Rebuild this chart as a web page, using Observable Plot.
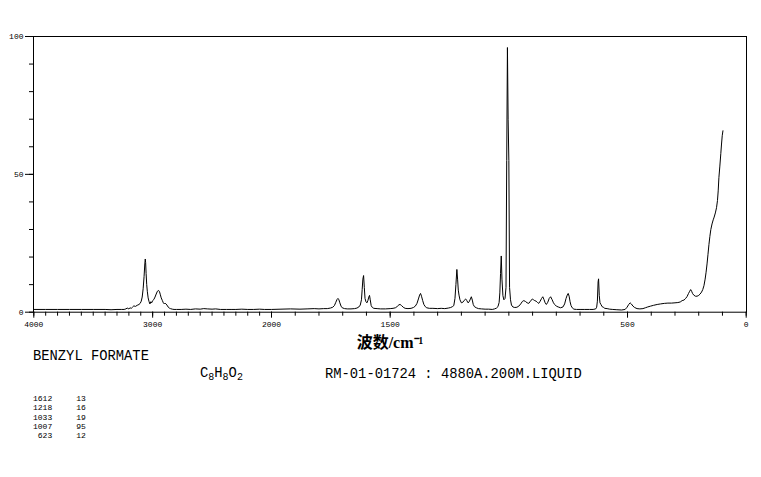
<!DOCTYPE html>
<html><head><meta charset="utf-8">
<script src="https://cdn.jsdelivr.net/npm/d3@7"></script>
<script src="https://cdn.jsdelivr.net/npm/@observablehq/plot@0.6"></script>
<style>
body{margin:0;background:#fff;}
#wrap{position:relative;width:761px;height:477px;overflow:hidden;font-family:"Liberation Mono",monospace;color:#000;background:#fff}
#wrap svg{position:absolute;left:0;top:0}
.t{position:absolute;white-space:pre;line-height:1}
g[aria-label="x-axis label"]{font:bold 16px "Liberation Serif","Noto Sans CJK SC",serif}
</style></head><body><div id="wrap"></div>
<script>
// Raman spectrum of benzyl formate: wavenumber (cm-1) and relative intensity
const wavenumbers = [4000,3900,3800,3700,3600,3500,3400,3350,3300,3260,3240,3225,3214,3200,3190,3180,3170,3158,3145,3130,3115,3105,3096,3088,3080,3072,3066,3062,3059,3055,3050,3045,3038,3030,3023,3015,3008,3000,2990,2980,2970,2960,2950,2942,2935,2928,2918,2910,2902,2895,2888,2880,2870,2860,2850,2835,2820,2800,2760,2720,2680,2640,2600,2570,2540,2500,2470,2430,2380,2340,2300,2250,2200,2150,2100,2060,2000,1960,1920,1880,1850,1820,1800,1780,1765,1752,1742,1735,1729,1724,1720,1716,1712,1707,1702,1692,1681,1665,1650,1640,1632,1626,1621,1618,1615,1612,1609,1606,1602,1598,1594,1590,1587,1584,1580,1575,1569,1555,1540,1520,1500,1488,1478,1470,1463,1458,1452,1445,1437,1425,1412,1402,1394,1387,1381,1376,1372,1368,1363,1358,1352,1346,1335,1320,1300,1285,1270,1255,1245,1238,1232,1227,1223,1219,1216,1213,1210,1206,1200,1194,1188,1182,1177,1172,1167,1162,1158,1154,1150,1145,1137,1128,1115,1100,1085,1070,1060,1052,1046,1041,1038,1035,1032,1029,1025,1021,1016,1012,1009,1006,1003,1000,997,993,989,983,975,966,958,950,943,937,930,923,916,909,901,896,891,885,879,874,868,862,857,852,847,842,836,830,824,818,812,807,800,792,782,772,765,759,754,750,746,742,738,733,726,715,700,680,660,645,634,630,627,624,622,619,616,612,607,602,596,586,575,562,545,525,510,502,495,489,484,477,470,460,448,435,425,415,403,390,375,361,345,330,315,300,288,278,270,262,255,249,243,238,234,230,226,221,214,207,200,194,188,183,178,173,169,165,161,157,153,149,144,139,135,130,125,121,118,115,111,107,104,101,98];
const intensities = [1.0,1.0,1.0,1.0,1.0,1.0,1.0,0.9,1.0,1.0,1.0,1.2,1.5,1.2,1.6,1.4,1.8,2.3,2.1,2.5,2.8,3.2,4.0,5.5,8.5,13,17.5,19.3,18,14,10,7.6,5.2,3.8,3.0,3.8,3.4,4.2,4.6,5.5,6.6,7.6,7.9,7.4,6.3,5.2,4.2,3.4,3.0,3.3,3.0,2.6,1.9,1.5,1.3,1.1,1.0,1.0,1.0,1.1,1.0,1.2,1.1,1.3,1.2,1.1,1.2,1.0,1.0,1.0,1.0,1.1,1.0,1.0,1.1,1.0,1.0,1.1,1.2,1.1,1.2,1.3,1.2,1.3,1.3,1.5,1.8,2.4,3.6,4.6,5.0,4.5,3.4,2.2,1.6,1.3,1.2,1.2,1.3,1.5,1.9,2.6,4.5,8.2,12,13.3,9,5,3.8,3.4,4.2,5.5,6.1,4.5,2.4,1.7,1.4,1.3,1.2,1.2,1.3,1.4,1.6,2.1,2.7,2.8,2.4,1.8,1.4,1.3,1.4,1.7,2.2,3.2,4.8,6.2,6.8,5.8,4.2,2.8,2.0,1.6,1.4,1.4,1.3,1.4,1.3,1.5,1.7,2.0,2.4,5,10,15.5,12,8,6.2,4.5,3.4,3.6,4.3,4.8,4.2,3.4,3.8,4.8,5.6,4.4,2.8,2.0,1.6,1.3,1.2,1.1,1.1,1.0,1.2,1.5,2.0,3.5,7,14,20.4,12,6,4.5,5,9,55,96,70,55,9,4.5,2.6,1.9,1.7,1.8,2.2,3.0,3.9,4.2,3.9,3.4,3.2,4.0,4.8,4.5,4.2,4.0,3.5,3.2,4.0,5.0,5.6,4.6,3.4,2.8,3.6,5.0,5.6,4.6,3.4,2.8,2.2,1.9,1.6,1.9,3.0,5.0,6.2,6.8,5.8,3.8,2.4,1.6,1.1,1.0,1.0,1.0,1.0,1.0,1.2,1.8,4.0,11,12.1,6,3.4,2.8,2.0,1.8,1.4,1.3,1.1,1.0,0.9,0.8,1.0,1.8,2.8,3.4,3.0,2.2,1.7,1.3,1.2,1.3,1.6,1.9,2.2,2.5,2.8,3.0,3.2,3.3,3.3,3.4,3.5,3.7,4.2,4.4,5.0,5.7,6.8,7.6,8.2,7.6,6.8,6.2,5.8,5.8,6.1,6.6,7.3,8.2,9.6,12,14.5,17.5,21,24.5,27.5,30,32,33.5,34.5,36,37.9,40.5,44,48.8,53,57.5,61,64,65.8];

// axis ticks and labels
const xScaleBreaks = [4000, 2000, 0];
const xTickValues = d3.range(4000, -1, -100);
const xLabelValues = [4000, 3000, 2000, 1500, 500, 0];
const yTickValues = d3.range(0, 101, 10);
const yLabelValues = [0, 50, 100];
const xTitle = "波数/cm⁻¹";

// annotation text
const compoundName = "BENZYL FORMATE";
const formulaParts = [["C","8"],["H","8"],["O","2"]];
const sampleInfo = "RM-01-01724 : 4880A.200M.LIQUID";
const peakWavenumbers = [1612, 1218, 1033, 1007, 623];
const peakIntensities = [13, 16, 19, 95, 12];

const spectrum = wavenumbers.map((w, i) => ({w, v: intensities[i]}));
const blank = () => "";

const chart = Plot.plot({
  width: 761,
  height: 350,
  marginLeft: 33,
  marginRight: 15,
  marginTop: 36,
  marginBottom: 38.3,
  style: {fontFamily: "Liberation Mono, monospace", fontSize: "8px", color: "black", background: "white"},
  x: {type: "linear", domain: xScaleBreaks, range: [33.3, 271, 745.7]},
  y: {domain: [0, 100]},
  marks: [
    Plot.frame({stroke: "black", strokeWidth: 1}),
    Plot.axisX(xTickValues, {tickSize: 4, tickFormat: blank, label: null}),
    Plot.axisX(xLabelValues, {tickSize: 6, tickPadding: 3, tickFormat: d => String(d), label: xTitle, labelAnchor: "center", labelArrow: "none", labelOffset: 36}),
    Plot.axisY(yTickValues, {tickSize: 4, tickFormat: blank, label: null}),
    Plot.axisY(yLabelValues, {tickSize: 8, tickPadding: 2, tickFormat: d => String(d), label: null}),
    Plot.line(spectrum, {x: "w", y: "v", stroke: "black", strokeWidth: 1})
  ]
});

const wrap = document.getElementById("wrap");
wrap.appendChild(chart);

function addText(txt, left, top, size) {
  const d = document.createElement("div");
  d.className = "t";
  d.textContent = txt;
  d.style.left = left + "px";
  d.style.top = top + "px";
  d.style.fontSize = size + "px";
  wrap.appendChild(d);
  return d;
}
addText(compoundName, 33, 350.4, 13.8);
const f = addText("", 200, 366.5, 13.8);
formulaParts.forEach(([el, n]) => {
  f.appendChild(document.createTextNode(el));
  const s = document.createElement("span");
  s.textContent = n;
  s.style.fontSize = "10px";
  s.style.position = "relative";
  s.style.top = "3px";
  f.appendChild(s);
});
addText(sampleInfo, 325, 368.4, 13.8);
peakWavenumbers.forEach((w, i) => {
  addText(String(w).padStart(4) + "     " + String(peakIntensities[i]).padStart(2), 33, 395 + i * 9.3, 8);
});
</script></body></html>
